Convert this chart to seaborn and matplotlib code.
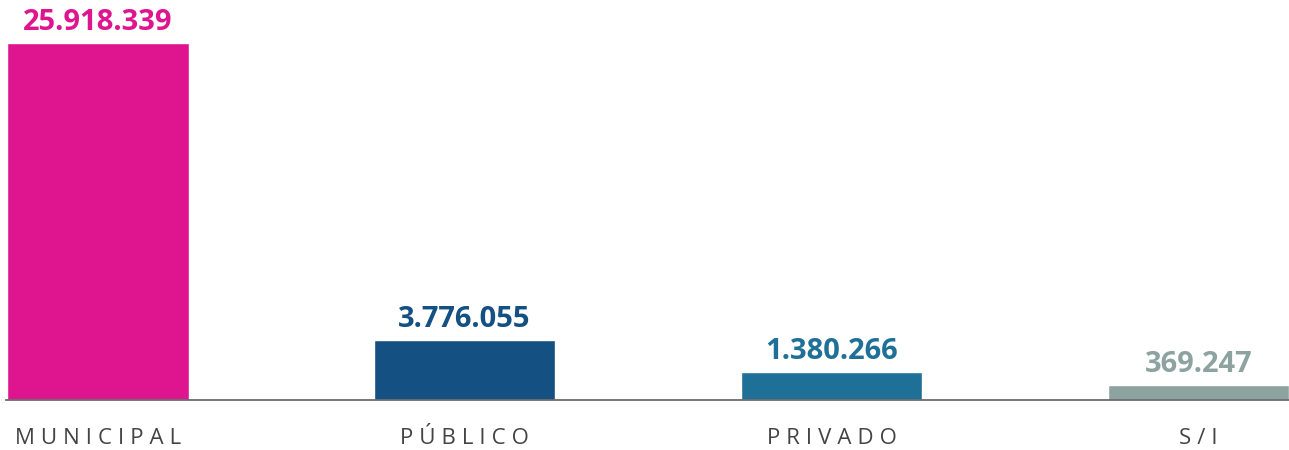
import numpy as np
import pandas as pd
import seaborn as sns
import matplotlib.pyplot as plt

categorias = ['MUNICIPAL', 'PÚBLICO', 'PRIVADO', 'S/I']
valores = [25918339, 3776055, 1380266, 369247]
colores = ['#DF1590', '#145082', '#1F7097', '#8DA3A0']

df = pd.DataFrame({'cat': categorias, 'val': valores})

sns.set_style('white')
plt.rcParams['font.family'] = ['Open Sans', 'DejaVu Sans']

# el original no es lineal: las barras chicas tienen una altura minima
K = 730000
S = 20000
grid = np.linspace(0, 4e7, 20001)


def fwd(y):
    y = np.asarray(y, dtype=float)
    return y + K * (1 - np.exp(-np.clip(y, 0, None) / S))


def inv(y):
    return np.interp(y, fwd(grid), grid)


fig = plt.figure(figsize=(12.89, 4.5), dpi=100)
ax = fig.add_axes([6 / 1289, 50 / 450, 1 - 6 / 1289, 400 / 450])

sns.barplot(data=df, x='cat', y='val', hue='cat', palette=colores,
            width=0.495, legend=False, ax=ax, saturation=1)

ax.set_yscale('function', functions=(fwd, inv))
ax.set_xlim(-0.25, 3.247)
ax.set_ylim(0, (max(valores) + K) * 400 / 357 - K)

for i, v in enumerate(valores):
    txt = f'{v:,}'.replace(',', '.')
    ax.annotate(txt, (i, v), xytext=(0, 9.4), textcoords='offset points',
                ha='center', va='baseline', fontsize=21, fontweight='bold',
                color=colores[i])

for s in ['top', 'right', 'left']:
    ax.spines[s].set_visible(False)
ax.spines['bottom'].set_color('#6b6b6b')
ax.spines['bottom'].set_linewidth(1.3)

ax.set_yticks([])
ax.set_xlabel('')
ax.set_ylabel('')
ax.tick_params(axis='x', length=0, pad=20)
ax.set_xticks(range(len(categorias)))
ax.set_xticklabels(['\u2009\u200a'.join(c) for c in categorias], fontsize=16,
                   color='#444444')

fig.savefig('out.png', dpi=100)
